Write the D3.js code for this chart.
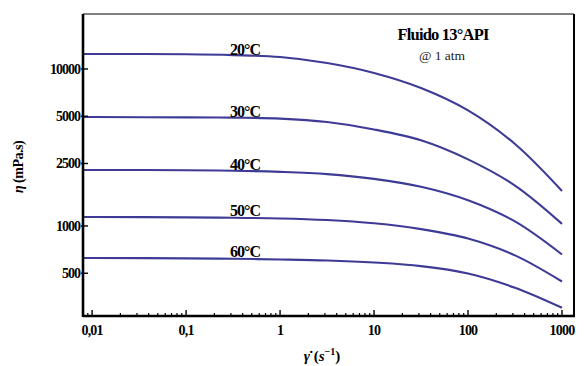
<!DOCTYPE html>
<html><head><meta charset="utf-8">
<script src="https://cdn.jsdelivr.net/npm/d3@7"></script>
<style>body{margin:0;background:#fff}svg{display:block}</style>
</head><body>
<script>
const shearRates = [0.008, 0.01, 0.1, 0.316, 1, 3.16, 10, 31.6, 100, 316, 1000];
const temps = ["20°C", "30°C", "40°C", "50°C", "60°C"];
const visc20 = [12470, 12470, 12400, 12250, 11920, 10920, 9440, 7570, 5450, 3330, 1672];
const visc30 = [4940, 4940, 4920, 4900, 4830, 4590, 4120, 3510, 2654, 1807, 1031];
const visc40 = [2275, 2275, 2265, 2250, 2210, 2138, 1995, 1778, 1459, 1069, 658];
const visc50 = [1140, 1140, 1135, 1127, 1117, 1091, 1040, 955, 832, 650, 443];
const visc60 = [625, 625, 622, 618, 612, 603, 585, 555, 498, 404, 301];
const yTicks = [500, 1000, 2500, 5000, 10000];
const xTicks = [0.01, 0.1, 1, 10, 100, 1000];
const xTickLabels = ["0,01", "0,1", "1", "10", "100", "1000"];
const series = [visc20, visc30, visc40, visc50, visc60];

const W = 586, H = 366;
const L = 83, R = 574, T = 14, B = 316;
const svg = d3.select("body").append("svg").attr("width", W).attr("height", H);
const x = d3.scaleLog().domain([0.008, 1342]).range([L, R]);
const y = d3.scaleLog().domain([267, 22400]).range([B, T]);
const serif = "'Liberation Serif','DejaVu Serif',serif";
const col = "#3d3b95";

// curves
const line = d3.line().x((d,i)=>x(shearRates[i])).y(d=>y(d)).curve(d3.curveCatmullRom.alpha(0.5));
series.forEach(s => {
  svg.append("path").attr("d", line(s)).attr("fill","none").attr("stroke", col).attr("stroke-width", 2.1);
});

// frame
svg.append("line").attr("x1",L).attr("x2",R).attr("y1",T).attr("y2",T).attr("stroke","#000").attr("stroke-width",1.2);
svg.append("line").attr("x1",R).attr("x2",R).attr("y1",T).attr("y2",B).attr("stroke","#000").attr("stroke-width",2);

// x axis
const minor = [];
for (let e = -3; e <= 3; e++) for (let m = 2; m <= 9; m++) { const v = m*Math.pow(10,e); if (v > 0.008 && v < 1342) minor.push(v); }
const gx = svg.append("g");
gx.selectAll("line.mn").data(minor).join("line").attr("x1",d=>x(d)).attr("x2",d=>x(d)).attr("y1",B).attr("y2",B-3).attr("stroke","#000").attr("stroke-width",1.2);
gx.selectAll("line.mj").data(xTicks).join("line").attr("x1",d=>x(d)).attr("x2",d=>x(d)).attr("y1",B).attr("y2",B-6).attr("stroke","#000").attr("stroke-width",1.4);
gx.selectAll("text").data(xTicks).join("text").attr("x",d=>x(d)).attr("y",335).attr("text-anchor","middle")
  .attr("font-family",serif).attr("font-weight","bold").attr("font-size",14).attr("letter-spacing","-0.8")
  .text((d,i)=>xTickLabels[i]);

// y axis
const gy = svg.append("g");
gy.selectAll("line").data(yTicks).join("line").attr("x1",L-2).attr("x2",L+5).attr("y1",d=>y(d)).attr("y2",d=>y(d)).attr("stroke","#000").attr("stroke-width",1.4);
gy.selectAll("text").data(yTicks).join("text").attr("x",L-3).attr("y",d=>y(d)+5).attr("text-anchor","end")
  .attr("font-family",serif).attr("font-weight","bold").attr("font-size",14).attr("letter-spacing","-1")
  .text(d=>d);

svg.append("line").attr("x1",L).attr("x2",R+1).attr("y1",B).attr("y2",B).attr("stroke","#000").attr("stroke-width",2.6);
svg.append("line").attr("x1",L).attr("x2",L).attr("y1",T).attr("y2",B+1).attr("stroke","#000").attr("stroke-width",2.6);

// temperature labels
series.forEach((s,i) => {
  svg.append("text").attr("x", 245).attr("y", y(s[4]) - 2).attr("text-anchor","middle")
    .attr("font-family",serif).attr("font-weight","bold").attr("font-size",16).attr("letter-spacing","-1")
    .text(temps[i]);
});

// title
svg.append("text").attr("x",443).attr("y",40).attr("text-anchor","middle").attr("font-family",serif)
  .attr("font-weight","bold").attr("font-size",16.5).attr("letter-spacing","-0.8").text("Fluido 13°API");
svg.append("text").attr("x",442).attr("y",60).attr("text-anchor","middle").attr("font-family",serif)
  .attr("font-size",13.5).attr("fill","#222").text("@ 1 atm");

// axis titles
const xt = svg.append("text").attr("x",322).attr("y",361).attr("text-anchor","middle").attr("font-family",serif)
  .attr("font-weight","bold").attr("font-size",15);
xt.append("tspan").attr("font-style","italic").text("γ̇");
xt.append("tspan").text(" (");
xt.append("tspan").attr("font-style","italic").text("s");
xt.append("tspan").attr("dy",-6).attr("font-size",10).text("−1");
xt.append("tspan").attr("dy",6).text(")");

svg.append("text").attr("transform","translate(23,167) rotate(-90)").attr("text-anchor","middle")
  .attr("font-family",serif).attr("font-weight","bold").attr("font-size",14).attr("letter-spacing","-0.5")
  .html('<tspan font-style="italic">η</tspan> (mPa.s)');
</script>
</body></html>
